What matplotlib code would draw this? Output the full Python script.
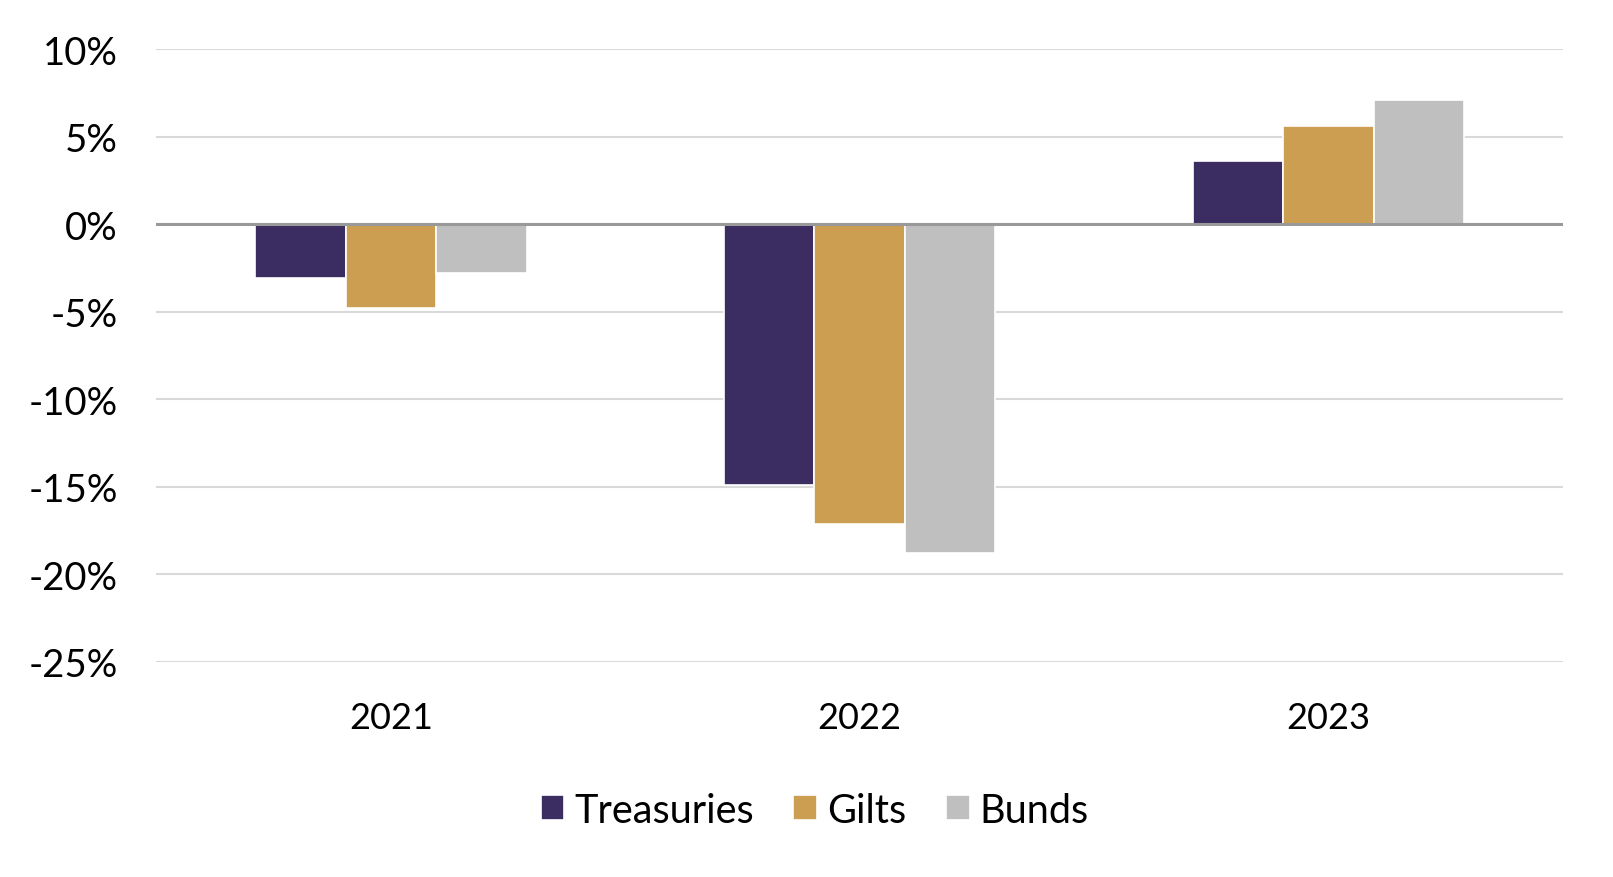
import matplotlib.pyplot as plt
import numpy as np
from matplotlib.ticker import FuncFormatter

# Data
years = ["2021", "2022", "2023"]
treasuries = [-3.1, -14.9, 3.6]
gilts = [-4.8, -17.1, 5.6]
bunds = [-2.8, -18.8, 7.1]

series_names = ["Treasuries", "Gilts", "Bunds"]
colors = ["#3b2d61", "#cc9e51", "#bfbfbf"]

plt.rcParams['font.family'] = ['Lato', 'DejaVu Sans']

fig = plt.figure(figsize=(16.13, 8.78), dpi=100)
ax = fig.add_axes([0.097, 0.245, 0.872, 0.698])

x = np.arange(len(years))
width = 0.193
for i, (vals, name, c) in enumerate(zip([treasuries, gilts, bunds], series_names, colors)):
    ax.bar(x + (i - 1) * width, vals, width, color=c, label=name,
           edgecolor='white', linewidth=1.2, zorder=3)

ax.set_xlim(-0.5, 2.5)
ax.set_ylim(-25, 10)
ax.set_yticks(np.arange(-25, 11, 5))
ax.yaxis.set_major_formatter(FuncFormatter(lambda v, p: f"{v:.0f}%"))
ax.set_xticks(x)
ax.set_xticklabels(years)

ax.grid(axis='y', color='#d9d9d9', linewidth=1.5, zorder=0)
ax.axhline(0, color='#999999', linewidth=2.2, zorder=4)
for s in ax.spines.values():
    s.set_visible(False)
ax.tick_params(axis='both', length=0, colors='black')
ax.tick_params(axis='y', pad=28, labelsize=27.5)
ax.tick_params(axis='x', pad=28, labelsize=26)

fig.legend(loc='center', bbox_to_anchor=(0.505, 0.076), ncol=3, frameon=False,
           fontsize=28.5, handlelength=0.6, handleheight=0.6, handletextpad=0.25,
           columnspacing=1.0)

fig.savefig("out.png", dpi=100)
